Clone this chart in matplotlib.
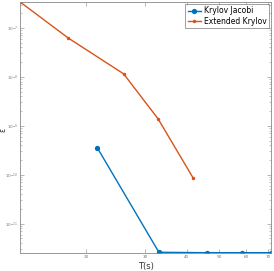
import matplotlib
matplotlib.use("Agg")
import matplotlib.pyplot as plt
import numpy as np

# data (log-log)
t_jacobi = [21.6, 33.0, 45.9, 58.5, 71.3]
err_jacobi = [3.56e-10, 2.6e-12, 2.55e-12, 2.55e-12, 2.55e-12]

t_ext = [12.7, 17.7, 25.9, 32.8, 41.7]
err_ext = [3.4e-7, 6.2e-8, 1.15e-8, 1.39e-9, 8.7e-11]

fig = plt.figure(figsize=(2.74, 2.71), dpi=100)
ax = fig.add_axes([0.073, 0.066, 0.916, 0.927])

ax.loglog(t_jacobi, err_jacobi, color="#0072BD", lw=1.0, marker="o", ms=2.8,
          label="Krylov Jacobi")
ax.loglog(t_ext, err_ext, color="#D95319", lw=1.0, marker="o", ms=1.5,
          label="Extended Krylov")

ax.set_xlim(12.7, 71.3)
ax.set_ylim(2.5e-12, 3.4e-7)

ax.set_xticks([20, 30, 40, 50, 60, 70])
ax.set_xticklabels(["20", "30", "40", "50", "60", "70"])
ax.xaxis.set_minor_formatter(matplotlib.ticker.NullFormatter())
ax.xaxis.get_offset_text().set_visible(False)
ax.yaxis.get_offset_text().set_visible(False)

ax.tick_params(which="both", direction="in", top=True, right=True,
               labelsize=3, colors="#999999", labelcolor="#777777", pad=1.5)
ax.tick_params(which="major", length=3, width=0.5)
ax.tick_params(which="minor", length=1.5, width=0.4)
for s in ax.spines.values():
    s.set_color("#888888")
    s.set_linewidth(0.6)

ax.set_xlabel("T(s)", fontsize=6, color="#333333")
ax.xaxis.set_label_coords(0.5, -0.035)
ax.set_ylabel("ε", fontsize=5.5, color="#333333")
ax.yaxis.set_label_coords(-0.05, 0.49)

leg = ax.legend(loc="upper right", fontsize=5.5, frameon=True, fancybox=False,
                borderpad=0.3, handlelength=1.8, handletextpad=0.3,
                labelspacing=0.2, borderaxespad=0.3)
leg.get_frame().set_edgecolor("#555555")
leg.get_frame().set_linewidth(0.5)

fig.savefig("out.png", dpi=100)
